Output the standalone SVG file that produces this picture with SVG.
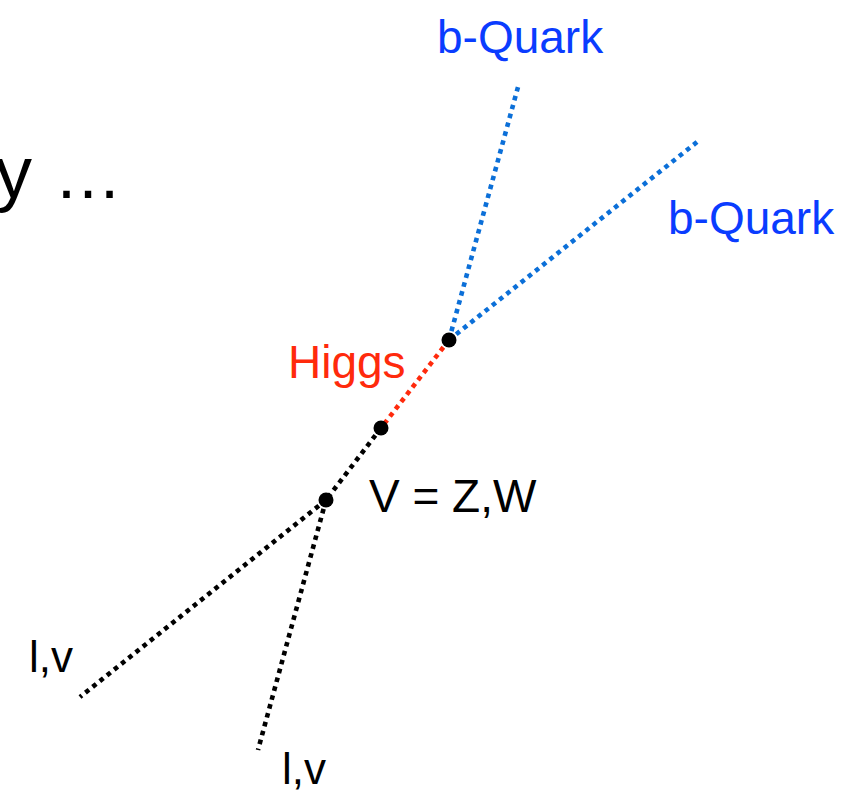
<svg xmlns="http://www.w3.org/2000/svg" width="845" height="792" viewBox="0 0 845 792">
<style>
text{font-family:"Liberation Sans",Arial,sans-serif;font-size:46px}
.big{font-size:74px}
.ell{font-size:68px}
.sm{font-size:44px}
.k{stroke:#000}
.b{stroke:#0b6fd8}
.r{stroke:#ff2a0c}
line{stroke-width:4.6;stroke-dasharray:4.6 4.6;fill:none}
.dot{fill:#000}
</style>
<rect width="845" height="792" fill="#fff"/>
<text class="big" x="-5" y="198" fill="#000">y</text>
<text class="ell" x="54" y="198" fill="#000">…</text>
<g id="connectors">
<line class="b" x1="449" y1="340" x2="518" y2="87"/>
<line class="b" x1="449" y1="340" x2="697" y2="142"/>
<line class="r" x1="449" y1="340" x2="381" y2="428"/>
<line class="k" x1="381" y1="428" x2="326" y2="500"/>
<line class="k" x1="326" y1="500" x2="80" y2="697"/>
<line class="k" x1="326" y1="500" x2="258" y2="750"/>
</g>
<g id="vertex-Hbb"><circle class="dot" cx="449" cy="340" r="7.5"/></g>
<g id="vertex-VH"><circle class="dot" cx="381" cy="428" r="7.5"/></g>
<g id="vertex-Vll"><circle class="dot" cx="326" cy="500" r="7.5"/></g>
<g id="label-bquark1"><text x="437" y="53" fill="#0a3cff">b-Quark</text></g>
<g id="label-bquark2"><text x="668" y="234" fill="#0a3cff">b-Quark</text></g>
<g id="label-higgs"><text x="288" y="378" fill="#ff2a0c">Higgs</text></g>
<g id="label-V"><text x="369" y="512" fill="#000">V = Z,W</text></g>
<g id="label-lv1"><text class="sm" x="29" y="672" fill="#000">l,v</text></g>
<g id="label-lv2"><text class="sm" x="282" y="784" fill="#000">l,v</text></g>
</svg>
